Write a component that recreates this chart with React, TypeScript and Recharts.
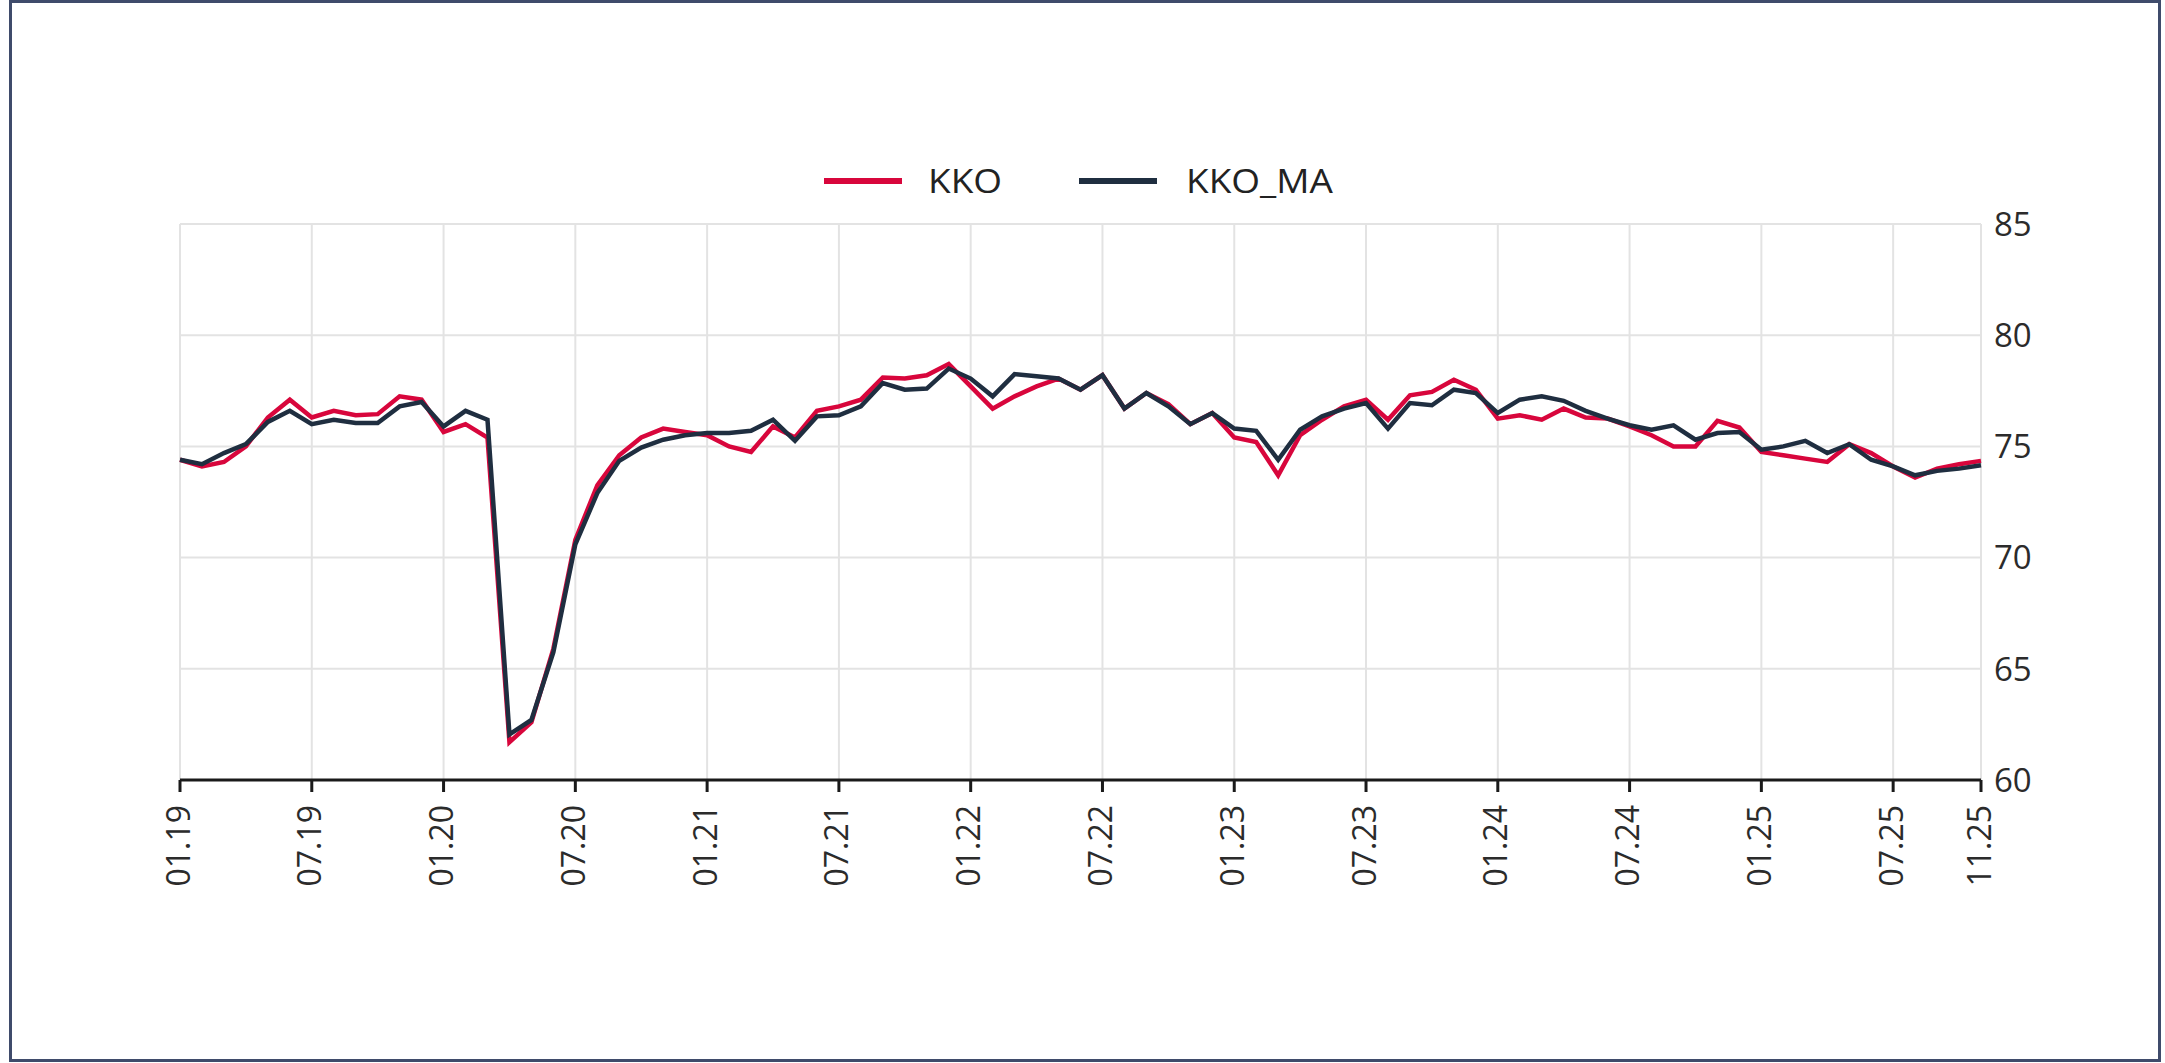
import React from "react";
import { LineChart, Line, XAxis, YAxis, CartesianGrid, Legend } from "recharts";

// monthly categories 01.19 .. 11.25
const months = [
  "01.19", "02.19", "03.19", "04.19", "05.19", "06.19", "07.19", "08.19", "09.19", "10.19", "11.19", "12.19",
  "01.20", "02.20", "03.20", "04.20", "05.20", "06.20", "07.20", "08.20", "09.20", "10.20", "11.20", "12.20",
  "01.21", "02.21", "03.21", "04.21", "05.21", "06.21", "07.21", "08.21", "09.21", "10.21", "11.21", "12.21",
  "01.22", "02.22", "03.22", "04.22", "05.22", "06.22", "07.22", "08.22", "09.22", "10.22", "11.22", "12.22",
  "01.23", "02.23", "03.23", "04.23", "05.23", "06.23", "07.23", "08.23", "09.23", "10.23", "11.23", "12.23",
  "01.24", "02.24", "03.24", "04.24", "05.24", "06.24", "07.24", "08.24", "09.24", "10.24", "11.24", "12.24",
  "01.25", "02.25", "03.25", "04.25", "05.25", "06.25", "07.25", "08.25", "09.25", "10.25", "11.25",
];

const kko = [
  74.4, 74.1, 74.3, 75.0, 76.3, 77.1, 76.3, 76.6, 76.4, 76.45, 77.25, 77.1,
  75.65, 76.0, 75.4, 61.7, 62.6, 65.9, 70.8, 73.25, 74.6, 75.4, 75.8, 75.65,
  75.5, 75.0, 74.75, 75.9, 75.4, 76.6, 76.8, 77.1, 78.1, 78.05, 78.2, 78.7,
  77.7, 76.7, 77.25, 77.7, 78.05, 77.55, 78.2, 76.7, 77.4, 76.9, 76.0, 76.5,
  75.4, 75.2, 73.7, 75.5, 76.2, 76.8, 77.1, 76.2, 77.3, 77.45, 78.0, 77.55,
  76.25, 76.4, 76.2, 76.7, 76.3, 76.25, 75.9, 75.5, 75.0, 75.0, 76.15, 75.85,
  74.75, 74.6, 74.45, 74.3, 75.1, 74.7, 74.1, 73.6, 74.0, 74.2, 74.35,
];

const kkoMa = [
  74.4, 74.2, 74.7, 75.1, 76.1, 76.6, 76.0, 76.2, 76.05, 76.05, 76.8, 77.0,
  75.9, 76.6, 76.2, 62.05, 62.7, 65.75, 70.6, 72.9, 74.35, 74.95, 75.3, 75.5,
  75.6, 75.6, 75.7, 76.2, 75.25, 76.35, 76.4, 76.8, 77.85, 77.55, 77.6, 78.5,
  78.05, 77.25, 78.25, 78.15, 78.05, 77.55, 78.2, 76.7, 77.4, 76.8, 76.0, 76.5,
  75.8, 75.7, 74.4, 75.75, 76.35, 76.7, 76.95, 75.8, 76.95, 76.85, 77.55, 77.4,
  76.5, 77.1, 77.25, 77.05, 76.6, 76.25, 75.95, 75.75, 75.95, 75.3, 75.6, 75.65,
  74.85, 75.0, 75.25, 74.7, 75.1, 74.4, 74.1, 73.7, 73.9, 74.0, 74.15,
];

const xTicks = [
  "01.19", "07.19", "01.20", "07.20", "01.21", "07.21", "01.22",
  "07.22", "01.23", "07.23", "01.24", "07.24", "01.25", "07.25", "11.25",
];
const yTicks = [60, 65, 70, 75, 80, 85];

const RED = "#d8063c";
const NAVY = "#1f2e40";
const FONT = "'Open Sans', 'Liberation Sans', sans-serif";

const data = months.map((m, i) => ({ month: m, KKO: kko[i], KKO_MA: kkoMa[i] }));

function MonthTick({ x, y, payload }: any) {
  return (
    <text
      x={x}
      y={y}
      transform={`rotate(-90, ${x}, ${y})`}
      textAnchor="end"
      dy="0.3em"
      fill="#2b2b2b"
      fontSize={32}
      fontFamily={FONT}
    >
      {payload.value}
    </text>
  );
}

// legend items sit at fixed offsets from the legend's left edge
const legendItems = [
  { label: "KKO", color: RED, lineX: 0, textX: 104 },
  { label: "KKO_MA", color: NAVY, lineX: 255, textX: 362 },
];

function LegendContent() {
  return (
    <div style={{ position: "relative", width: 520, height: 50, fontFamily: FONT, fontSize: 33, color: "#222" }}>
      {legendItems.map((it) => (
        <React.Fragment key={it.label}>
          <span
            style={{ position: "absolute", left: it.lineX, top: 22, width: 78, height: 6, background: it.color }}
          />
          <span
            style={{
              position: "absolute",
              left: it.textX,
              top: 0,
              lineHeight: "50px",
              transform: "scaleX(1.12)",
              transformOrigin: "left center",
              whiteSpace: "nowrap",
            }}
          >
            {it.label}
          </span>
        </React.Fragment>
      ))}
    </div>
  );
}

export default function App() {
  return (
    <div style={{ position: "absolute", left: 0, top: 0, width: 2165, height: 1063, background: "#fff" }}>
      <div
        style={{
          position: "absolute",
          left: 9,
          top: 0,
          width: 2152,
          height: 1062,
          boxSizing: "border-box",
          border: "3px solid #3f4b6b",
        }}
      />
      <div style={{ position: "absolute", left: 0, top: 0 }}>
        <LineChart width={2165} height={1063} data={data} margin={{ top: 224, right: 104, bottom: 163, left: 180 }}>
          <CartesianGrid stroke="#e3e3e3" strokeWidth={2} />
          <XAxis
            dataKey="month"
            ticks={xTicks}
            interval={0}
            height={120}
            tickSize={12}
            tickMargin={13}
            axisLine={{ stroke: "#1a1a1a", strokeWidth: 3 }}
            tickLine={{ stroke: "#1a1a1a", strokeWidth: 3 }}
            tick={<MonthTick />}
          />
          <YAxis
            orientation="right"
            domain={[60, 85]}
            ticks={yTicks}
            width={80}
            axisLine={false}
            tickLine={false}
            tickMargin={7}
            tick={{ fill: "#2b2b2b", fontSize: 33, fontFamily: FONT }}
          />
          <Legend
            layout="horizontal"
            verticalAlign="middle"
            align="center"
            content={<LegendContent />}
            wrapperStyle={{ position: "absolute", left: 824, top: 156, width: "auto", height: "auto" }}
          />
          <Line type="linear" dataKey="KKO" stroke={RED} strokeWidth={4.5} dot={false} isAnimationActive={false} />
          <Line type="linear" dataKey="KKO_MA" stroke={NAVY} strokeWidth={4.5} dot={false} isAnimationActive={false} />
        </LineChart>
      </div>
    </div>
  );
}
